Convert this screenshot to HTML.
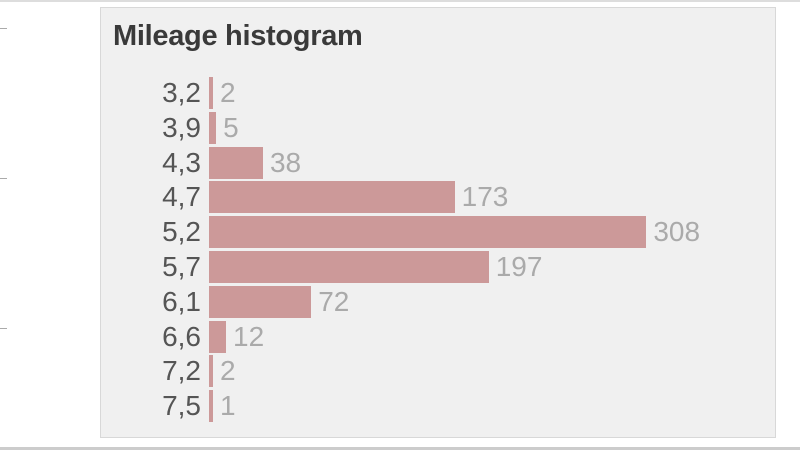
<!DOCTYPE html>
<html><head><style>
body{margin:0;width:800px;height:450px;background:#fff;position:relative;overflow:hidden;font-family:"Liberation Sans",sans-serif}
.top{position:absolute;left:0;top:0;width:800px;height:2px;background:#ddd}
.bot{position:absolute;left:0;top:447px;width:800px;height:3px;background:#ccc}
.tk{position:absolute;left:0;width:7px;height:1px;background:#aaa}
.panel{position:absolute;left:100px;top:7px;width:674px;height:429px;background:#f0f0f0;border:1px solid #d8d8d8}
.title{position:absolute;left:113px;top:20px;font-size:29px;font-weight:bold;color:#3a3a3a;letter-spacing:-0.3px}
.lab{position:absolute;width:100px;left:101px;text-align:right;font-size:28px;color:#555;line-height:32px}
.bar{position:absolute;left:209px;height:32px;background:#cc9999}
.val{position:absolute;font-size:28px;color:#aaa;line-height:32px}
</style></head><body>
<div class="top"></div><div class="bot"></div>
<div class="tk" style="top:28px"></div><div class="tk" style="top:178px"></div><div class="tk" style="top:328px"></div>
<div class="panel"></div>
<div class="title">Mileage histogram</div>
<div id="c"></div>
<script>
var d=[["3,2",2],["3,9",5],["4,3",38],["4,7",173],["5,2",308],["5,7",197],["6,1",72],["6,6",12],["7,2",2],["7,5",1]];
var h="";
d.forEach(function(r,i){var y=77+i*34.8;var w=Math.max(4,r[1]*1.42);
h+='<div class="lab" style="top:'+y+'px">'+r[0]+'</div><div class="bar" style="top:'+y+'px;width:'+w+'px"></div><div class="val" style="top:'+y+'px;left:'+(209+w+7)+'px">'+r[1]+'</div>';});
document.getElementById("c").innerHTML=h;
</script>
</body></html>
